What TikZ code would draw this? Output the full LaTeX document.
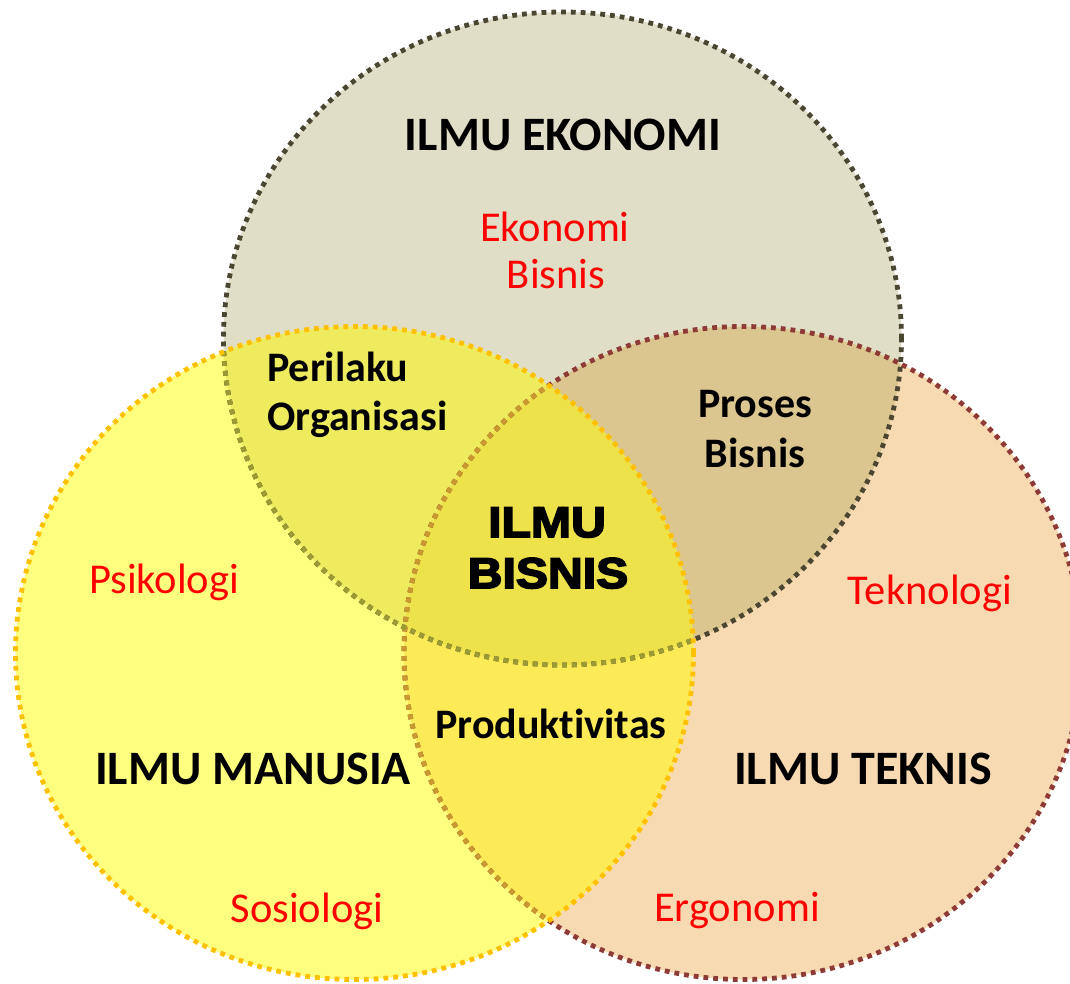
\documentclass[tikz,border=0pt]{standalone}
\usepackage{fontspec}
\setmainfont{Carlito}[Ligatures={NoCommon}]
\newfontfamily\heavyfont[FakeBold=4,FakeStretch=1.12]{Liberation Sans Bold}
\definecolor{topc}{HTML}{E0DEC6}
\definecolor{leftc}{HTML}{FFFF7F}
\definecolor{rightc}{HTML}{F8DAB2}
\definecolor{tlc}{HTML}{EEEC5E}
\definecolor{trc}{HTML}{DCC690}
\definecolor{lrc}{HTML}{FCEA56}
\definecolor{allc}{HTML}{EDE24A}
\definecolor{topb}{HTML}{4A4632}
\definecolor{topbl}{HTML}{9C9A32}
\definecolor{leftb}{HTML}{FFC000}
\definecolor{rightb}{HTML}{8E3A36}
\definecolor{rightbl}{HTML}{C9982E}
\definecolor{redtxt}{HTML}{FF0000}
\tikzset{
  E/.style={x radius=339pt, y radius=326.5pt},
  rim/.style={line width=4.8pt, dash pattern=on 4.8pt off 5pt},
  title/.style={anchor=base, font=\fontsize{48}{52}\selectfont\bfseries, text=black, inner sep=0pt},
  lab/.style={anchor=base, font=\fontsize{42}{46}\selectfont\bfseries, text=black, inner sep=0pt},
  sub/.style={anchor=base, font=\fontsize{42.5}{46}\selectfont, text=redtxt, inner sep=0pt},
  core/.style={anchor=base, font=\fontsize{43}{47}\selectfont\heavyfont, text=black, inner sep=0pt}
}
\begin{document}
\begin{tikzpicture}[x=1pt,y=-1pt]
\useasboundingbox (0,0) rectangle (1070,983);
\clip (0,0) rectangle (1070,983);
\coordinate (T) at (562.5,338.5);
\coordinate (L) at (354.5,653);
\coordinate (R) at (743,653);
% base fills
\fill[topc] (T) ellipse [E];
\fill[rightc] (R) ellipse [E];
\fill[leftc] (L) ellipse [E];
% pairwise overlaps
\begin{scope}\clip (T) ellipse [E]; \fill[tlc] (L) ellipse [E]; \end{scope}
\begin{scope}\clip (T) ellipse [E]; \fill[trc] (R) ellipse [E]; \end{scope}
\begin{scope}\clip (L) ellipse [E]; \fill[lrc] (R) ellipse [E]; \end{scope}
\begin{scope}\clip (T) ellipse [E]; \clip (L) ellipse [E]; \fill[allc] (R) ellipse [E]; \end{scope}
% rims
\draw[rim, rightb] (R) ellipse [E];
\draw[rim, topb] (T) ellipse [E];
\begin{scope}\clip (L) ellipse [E];
  \draw[rim, rightbl] (R) ellipse [E];
  \draw[rim, topbl] (T) ellipse [E];
\end{scope}
\draw[rim, leftb] (L) ellipse [E];
% texts
\node[title] (eko) at (563,150) {ILMU EKONOMI};
\node[sub] (eko1) at (555,241) {Ekonomi};
\node[sub] (eko2) at (556,288) {Bisnis};
\node[lab, anchor=base west] (po1) at (267,381) {Perilaku};
\node[lab, anchor=base west] (po2) at (267,430) {Organisasi};
\node[lab] (pb1) at (755,417) {Proses};
\node[lab] (pb2) at (755,467) {Bisnis};
\node[core] (ib1) at (547,537) {ILMU};
\node[core] (ib2) at (548,588) {BISNIS};
\node[sub] (psi) at (164,593) {Psikologi};
\node[sub] (tek) at (930,604) {Teknologi};
\node[lab] (prod) at (551,738) {Produktivitas};
\node[title] (man) at (253,784) {ILMU MANUSIA};
\node[title] (tkn) at (863,784) {ILMU TEKNIS};
\node[sub] (sos) at (307,922) {Sosiologi};
\node[sub] (erg) at (737,921) {Ergonomi};
\end{tikzpicture}
\end{document}
